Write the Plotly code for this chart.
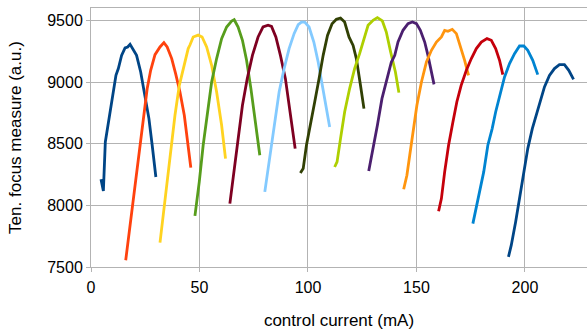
import plotly.graph_objects as go

colors = ["#004586", "#ff420e", "#ffd320", "#579d1c", "#7e0021", "#83caff",
          "#314004", "#aecf00", "#4b1f6f", "#ff950e", "#c5000b", "#0084d1", "#004586"]

c1_x = [4.6, 5.7, 6.6, 8.0, 9.8, 11.5, 12.6, 14.1, 15.7, 16.9, 18.0, 19.0, 21.0, 22.9, 24.9, 26.7, 28.2, 29.9]
c1_y = [8211, 8117, 8514, 8676, 8865, 9054, 9109, 9216, 9276, 9284, 9306, 9279, 9216, 9081, 8892, 8703, 8487, 8230]

c2_x = [16.0, 17.6, 19.5, 21.3, 22.9, 24.4, 25.9, 27.5, 29.5, 31.8, 33.6, 35.1, 37.2, 39.0, 41.0, 43.0, 44.5, 46.0]
c2_y = [7555, 7785, 8055, 8325, 8541, 8757, 8947, 9095, 9222, 9284, 9319, 9284, 9190, 9068, 8919, 8730, 8514, 8306]

c3_x = [31.8, 33.3, 35.1, 36.8, 38.7, 40.7, 42.8, 44.8, 45.6, 47.1, 49.4, 51.2, 53.3, 55.6, 57.9, 60.2, 62.0]
c3_y = [7698, 7920, 8217, 8487, 8730, 8973, 9135, 9271, 9300, 9365, 9380, 9365, 9284, 9135, 8919, 8649, 8379]

c4_x = [47.9, 49.9, 51.7, 53.6, 55.6, 57.9, 60.2, 62.5, 64.8, 66.0, 67.8, 69.8, 71.7, 73.7, 75.6, 77.8]
c4_y = [7914, 8190, 8487, 8757, 9000, 9190, 9352, 9446, 9494, 9505, 9446, 9338, 9176, 8946, 8703, 8406]

c5_x = [64.0, 65.8, 67.8, 69.8, 72.0, 74.4, 77.0, 79.3, 81.6, 83.2, 85.2, 87.3, 89.6, 91.9, 94.1]
c5_y = [8014, 8271, 8541, 8811, 9027, 9216, 9365, 9446, 9460, 9451, 9365, 9216, 9027, 8757, 8460]

c6_x = [80.1, 82.4, 84.7, 86.7, 89.0, 91.3, 93.6, 95.5, 97.0, 98.5, 100.5, 102.7, 104.7, 106.7, 108.5, 110.0]
c6_y = [8109, 8379, 8649, 8919, 9108, 9271, 9392, 9465, 9486, 9486, 9446, 9324, 9162, 8973, 8784, 8635]

c7_x = [96.5, 97.8, 99.3, 101.2, 103.1, 105.1, 107.0, 109.0, 111.1, 113.1, 115.0, 116.9, 118.9, 120.8, 122.3, 124.2, 125.8]
c7_y = [8263, 8298, 8487, 8676, 8838, 9027, 9216, 9378, 9473, 9508, 9519, 9486, 9365, 9297, 9190, 8973, 8784]

c8_x = [112.3, 113.4, 115.0, 116.9, 119.2, 121.5, 123.8, 125.8, 127.7, 130.0, 132.0, 134.3, 136.1, 138.1, 140.3, 141.9]
c8_y = [8311, 8352, 8541, 8757, 8947, 9109, 9230, 9352, 9460, 9500, 9522, 9495, 9405, 9243, 9081, 8914]

c9_x = [128.0, 130.0, 132.0, 134.1, 136.1, 138.4, 140.0, 141.5, 143.8, 146.1, 148.1, 150.0, 151.8, 153.8, 155.3, 156.9, 158.1]
c9_y = [8279, 8460, 8649, 8865, 9014, 9160, 9216, 9324, 9419, 9473, 9486, 9473, 9419, 9324, 9216, 9095, 8981]

c10_x = [144.1, 145.6, 146.9, 148.4, 150.2, 152.3, 154.6, 156.9, 159.2, 161.5, 163.0, 164.5, 166.5, 168.4, 170.2, 172.2, 174.0]
c10_y = [8130, 8244, 8406, 8595, 8811, 9000, 9162, 9257, 9324, 9365, 9419, 9411, 9427, 9392, 9297, 9176, 9054]

c11_x = [160.2, 161.5, 163.0, 164.8, 166.8, 168.6, 170.6, 173.0, 175.3, 177.6, 179.9, 182.5, 184.5, 186.5, 188.3, 189.8]
c11_y = [7952, 8055, 8271, 8487, 8676, 8838, 8973, 9095, 9190, 9271, 9324, 9352, 9338, 9271, 9176, 9060]

c12_x = [176.0, 178.3, 181.0, 182.9, 184.9, 186.5, 188.3, 190.6, 192.9, 195.2, 197.5, 199.5, 201.3, 203.6, 205.9]
c12_y = [7852, 8055, 8271, 8487, 8622, 8757, 8892, 9041, 9149, 9230, 9292, 9292, 9257, 9176, 9060]

c13_x = [192.4, 193.7, 195.7, 197.5, 199.4, 201.3, 203.4, 205.2, 206.7, 209.0, 211.3, 213.6, 215.9, 218.2, 220.2, 222.4]
c13_y = [7582, 7677, 7865, 8055, 8271, 8460, 8622, 8730, 8838, 8960, 9054, 9109, 9141, 9141, 9095, 9022]

series = [(c1_x, c1_y), (c2_x, c2_y), (c3_x, c3_y), (c4_x, c4_y), (c5_x, c5_y),
          (c6_x, c6_y), (c7_x, c7_y), (c8_x, c8_y), (c9_x, c9_y), (c10_x, c10_y),
          (c11_x, c11_y), (c12_x, c12_y), (c13_x, c13_y)]

fig = go.Figure()
for (xs, ys), col in zip(series, colors):
    fig.add_trace(go.Scatter(x=xs, y=ys, mode="lines",
                             line=dict(color=col, width=2.8),
                             showlegend=False, hoverinfo="skip"))

font = "Liberation Sans, Arial, sans-serif"
grid = "#b3b3b3"
fig.update_layout(
    width=588, height=330,
    margin=dict(l=91, r=1, t=8, b=63),
    paper_bgcolor="white", plot_bgcolor="white",
    font=dict(family=font, size=16, color="black"),
    showlegend=False,
)
fig.update_xaxes(range=[0, 228.6], tick0=0, dtick=50, showgrid=True, gridcolor=grid,
                 gridwidth=1, zeroline=False, showline=True, linecolor=grid, mirror=True,
                 ticks="outside", ticklen=4, tickcolor=grid, automargin=False,
                 tickfont=dict(size=16), ticklabelstandoff=2,
                 title=dict(text="control current (mA)", font=dict(size=17), standoff=20))
fig.update_yaxes(range=[7500, 9600], tick0=7500, dtick=500, showgrid=True, gridcolor=grid,
                 gridwidth=1, zeroline=False, showline=True, linecolor=grid,
                 ticks="outside", ticklen=4, tickcolor=grid, automargin=False,
                 tickfont=dict(size=16),
                 title=dict(text="Ten. focus measure (a.u.)", font=dict(size=17), standoff=21))

fig.write_html("out.html", config={"displayModeBar": False},
               post_script="document.body.style.margin='0';")
